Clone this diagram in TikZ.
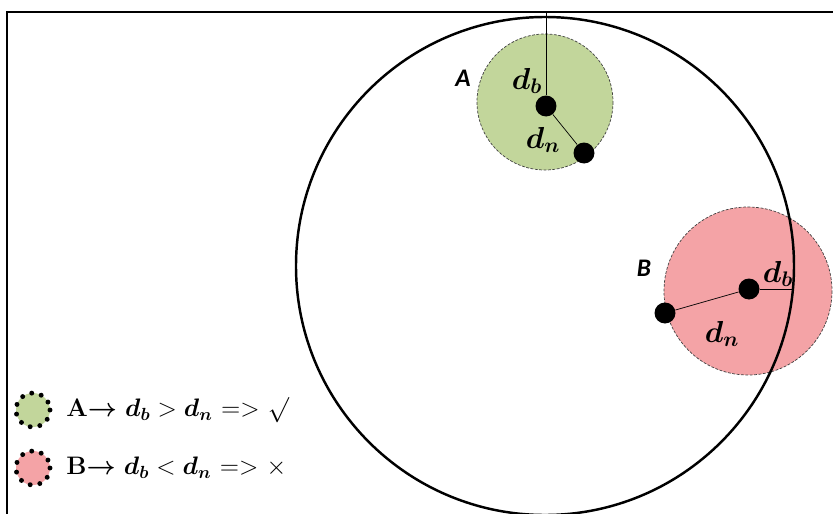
\documentclass[tikz,border=0pt]{standalone}
\usepackage{amsmath,amssymb,bm}
\usepackage{fontspec}
\newfontfamily\lblfont{Carlito}
\definecolor{zoneA}{RGB}{194,214,155}
\definecolor{zoneB}{RGB}{244,163,166}
\usetikzlibrary{positioning}

\begin{document}
\begin{tikzpicture}[x=0.02cm,y=-0.02cm,every node/.style={font=\Large},
    blob/.style={circle,fill=black,inner sep=0pt,minimum size=0.42cm},
    zone/.style={draw=black!75,thin,dash pattern=on 1.6pt off 0.9pt},
    tag/.style={font=\lblfont\bfseries\itshape\Large},
    dist/.style={font=\LARGE}]
  \useasboundingbox (0,0) rectangle (833,514);
  \draw[line width=1.6pt] (7,514) -- (7,12) -- (833,12);
  % the two zones, then the big circle over them
  \fill[zoneA] (545,102) circle (68);
  \draw[zone] (545,102) circle (68);
  \fill[zoneB] (748,291) circle (84);
  \draw[zone] (748,291) circle (84);
  \draw[line width=1.4pt] (545,266) circle (249);
  % node A
  \node[blob] (a0) at (546,106) {};
  \node[blob] (a1) at (584,153) {};
  \coordinate (atop) at (546,12);
  \draw (a0) -- (atop);
  \draw (a0) -- (a1);
  \node[tag] (la) at (463,78) {A};
  \node[dist] (adb) at (527,81) {$\bm{d_b}$};
  \node[dist] (adn) at (543,140) {$\bm{d_n}$};
  % node B
  \node[blob] (b0) at (749,289) {};
  \node[blob] (b1) at (665,313) {};
  \coordinate (bedge) at (794,289);
  \draw (b0) -- (bedge);
  \draw (b0) -- (b1);
  \node[tag] (lb) at (644,268) {B};
  \node[dist] (bdb) at (778,274) {$\bm{d_b}$};
  \node[dist] (bdn) at (722,334) {$\bm{d_n}$};
  % legend
  \foreach \n/\y/\c/\txt in {ka/410/zoneA/{\textbf{A}$\bm{\rightarrow}$ $\bm{d_b}>\bm{d_n}$ ={>} $\surd$},
                             kb/468/zoneB/{\textbf{B}$\bm{\rightarrow}$ $\bm{d_b}<\bm{d_n}$ ={>} $\times$}}{
    \fill[\c] (33,\y) circle (17);
    \draw[line width=2.8pt,line cap=round,dash pattern=on 0pt off 5.6pt] (33,\y) circle (17);
    \node[anchor=west,inner sep=0pt] (\n) at (66,\y) {\txt};
  }
\end{tikzpicture}
\end{document}
